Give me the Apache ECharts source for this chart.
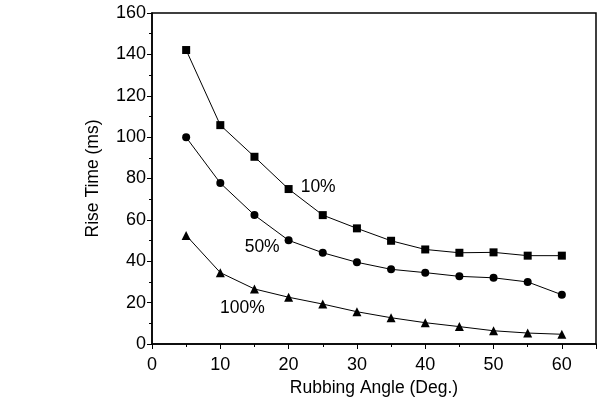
<!DOCTYPE html>
<html><head><meta charset="utf-8">
<script src="https://cdn.jsdelivr.net/npm/echarts@6/dist/echarts.min.js"></script>
<style>html,body{margin:0;padding:0;background:#fff}#c{width:602px;height:407px}</style>
</head><body><div id="c"></div>
<script>
const angles = [5,10,15,20,25,30,35,40,45,50,55,60];
const rise10 = [142.1,105.8,90.5,74.9,62.3,55.9,49.9,45.7,44.1,44.3,42.7,42.7];
const rise50 = [99.9,77.8,62.3,50.1,44.1,39.5,36.1,34.5,32.7,32.0,30.0,23.8];
const rise100 = [52.5,34.5,26.6,22.6,19.3,15.6,12.7,10.3,8.4,6.4,5.3,4.7];
const seriesNames = ['10%','50%','100%'];
const labelPos = [[24.4,75.4],[16.2,46.6],[13.3,17.2]];
const xTitle = 'Rubbing Angle (Deg.)';
const yTitle = 'Rise Time (ms)';

const font = 'Liberation Sans, Arial, sans-serif';
const chart = echarts.init(document.getElementById('c'));
function mk(name, vals, sym, size){
  return {name, type:'line', data: angles.map((a,i)=>[a,vals[i]]),
    symbol: sym, symbolSize: size, showAllSymbol:true,
    lineStyle:{color:'#000',width:1}, itemStyle:{color:'#000',opacity:1}, animation:false, z:3};
}
chart.setOption({
  animation:false,
  grid:{left:152,top:13,right:6,bottom:63,show:true,borderColor:'#000',borderWidth:1.5,backgroundColor:'transparent'},
  xAxis:{type:'value',min:0,max:65,interval:10,
    name:xTitle,nameLocation:'middle',nameGap:33,
    nameTextStyle:{fontFamily:font,fontSize:17.5,color:'#000'},
    axisLine:{show:true,onZero:false,lineStyle:{color:'#000',width:1.5}},
    axisTick:{show:true,inside:false,length:5,lineStyle:{color:'#000'}},
    minorTick:{show:true,splitNumber:2,length:3,lineStyle:{color:'#000'}},
    axisLabel:{fontFamily:font,fontSize:18,color:'#000',margin:12,showMaxLabel:false},
    splitLine:{show:false}},
  yAxis:{type:'value',min:0,max:160,interval:20,
    name:yTitle,nameLocation:'middle',nameGap:50,
    nameTextStyle:{fontFamily:font,fontSize:17.5,color:'#000'},
    axisLine:{show:true,onZero:false,lineStyle:{color:'#000',width:1.5}},
    axisTick:{show:true,inside:false,length:5,lineStyle:{color:'#000'}},
    minorTick:{show:true,splitNumber:2,length:3,lineStyle:{color:'#000'}},
    axisLabel:{fontFamily:font,fontSize:18,color:'#000',margin:6},
    splitLine:{show:false}},
  series:[
    mk(seriesNames[0],rise10,'rect',8),
    mk(seriesNames[1],rise50,'circle',8),
    mk(seriesNames[2],rise100,'triangle',9),
    {type:'scatter',symbolSize:1,silent:true,itemStyle:{opacity:0},
      data: labelPos.map((p,i)=>({value:p,name:seriesNames[i]})),
      label:{show:true,position:[0,0],align:'center',verticalAlign:'middle',formatter:p=>p.name,
        fontFamily:font,fontSize:17.5,color:'#000',opacity:1,textBorderWidth:0}}
  ]
});
</script></body></html>
